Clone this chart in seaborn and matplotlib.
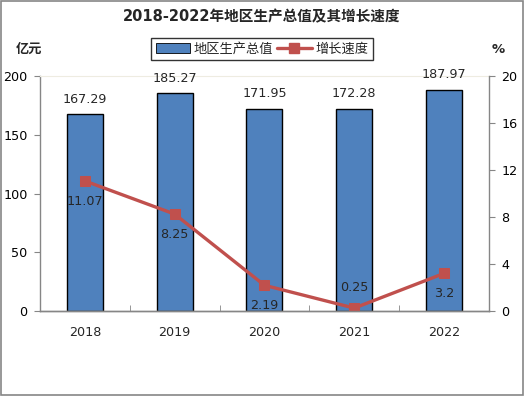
import matplotlib
matplotlib.use("Agg")
import pandas as pd
import seaborn as sns
from matplotlib import pyplot as plt
from matplotlib.patches import Rectangle

sns.set_style("white")
plt.rcParams["font.family"] = ["DejaVu Sans", "Noto Sans CJK SC"]

years = ["2018", "2019", "2020", "2021", "2022"]
gdp = [167.29, 185.27, 171.95, 172.28, 187.97]
growth = [11.07, 8.25, 2.19, 0.25, 3.2]
gdp_labels = ["167.29", "185.27", "171.95", "172.28", "187.97"]
growth_labels = ["11.07", "8.25", "2.19", "0.25", "3.2"]
# growth label placed above the marker (1) or below it (-1)
growth_label_side = [-1, -1, -1, 1, -1]

df = pd.DataFrame({"year": years, "gdp": gdp, "growth": growth})

bar_color = "#4F81BD"
line_color = "#C0504D"
axis_color = "#868686"
fs = 9.2

fig = plt.figure(figsize=(5.24, 3.96), dpi=100)
fig.patches.append(Rectangle((0.002, 0.002), 0.996, 0.995, transform=fig.transFigure,
                             fill=False, edgecolor=axis_color, linewidth=1.2))
ax = fig.add_axes([0.0763, 0.2146, 0.8567, 0.5934])

sns.barplot(data=df, x="year", y="gdp", ax=ax, color=bar_color, width=0.4,
            edgecolor="black", linewidth=1.0, saturation=1)
ax.set_ylim(0, 200)
ax.set_xlim(-0.5, 4.5)
ax.set_yticks([0, 50, 100, 150, 200])
ax.set_xlabel("")
ax.set_ylabel("")

ax2 = ax.twinx()
sns.lineplot(data=df, x="year", y="growth", ax=ax2, color=line_color, linewidth=2.4,
             marker="s", markersize=7, markeredgecolor=line_color, sort=False)
ax2.set_ylim(0, 20)
ax2.set_yticks([0, 4, 8, 12, 16, 20])
ax2.set_ylabel("")
ax2.set_xlim(-0.5, 4.5)

for a in (ax, ax2):
    for side in ("left", "right", "bottom"):
        a.spines[side].set_color(axis_color)
        a.spines[side].set_linewidth(1.0)
    a.spines["top"].set_visible(False)
    a.tick_params(axis="y", labelsize=fs, length=4, color=axis_color,
                  direction="out", labelcolor="black")
ax.spines["top"].set_visible(True)
ax.spines["top"].set_color("#EEECE1")
ax.spines["right"].set_visible(False)
ax2.spines["left"].set_visible(False)
ax.tick_params(axis="y", left=True, pad=5)
ax2.tick_params(axis="y", right=True, pad=5)

ax.tick_params(axis="x", bottom=False, labelsize=fs, pad=7)
ax.set_xticks([0.5, 1.5, 2.5, 3.5], minor=True)
ax.tick_params(axis="x", which="minor", bottom=True, direction="in",
               length=4, color=axis_color)

for i, lbl in enumerate(gdp_labels):
    ax.annotate(lbl, (i, gdp[i]), xytext=(0, 11), textcoords="offset points",
                ha="center", va="center", fontsize=fs)
for i, lbl in enumerate(growth_labels):
    ax2.annotate(lbl, (i, growth[i]), xytext=(0, 14.5 * growth_label_side[i]),
                 textcoords="offset points", ha="center", va="center", fontsize=fs)

fig.text(0.5, 0.957, "2018-2022年地区生产总值及其增长速度", ha="center", va="center",
         fontsize=10.5, fontweight="bold")
fig.text(0.056, 0.876, "亿元", ha="center", va="center", fontsize=9.5, fontweight="bold")
fig.text(0.951, 0.876, "%", ha="center", va="center", fontsize=9.5, fontweight="bold")

h1 = Rectangle((0, 0), 1, 1, facecolor=bar_color, edgecolor="black", linewidth=0.6)
h2 = plt.Line2D([], [], color=line_color, linewidth=2.4, marker="s", markersize=7)
leg = fig.legend([h1, h2], ["地区生产总值", "增长速度"], loc="center",
                 bbox_to_anchor=(0.5, 0.876), ncol=2, fontsize=9.5, frameon=True,
                 fancybox=False, edgecolor="black", handlelength=2.6,
                 handleheight=0.8, columnspacing=0.3, handletextpad=0.3,
                 borderpad=0.35)
leg.get_frame().set_linewidth(1.0)

fig.savefig("out.png", dpi=100)
